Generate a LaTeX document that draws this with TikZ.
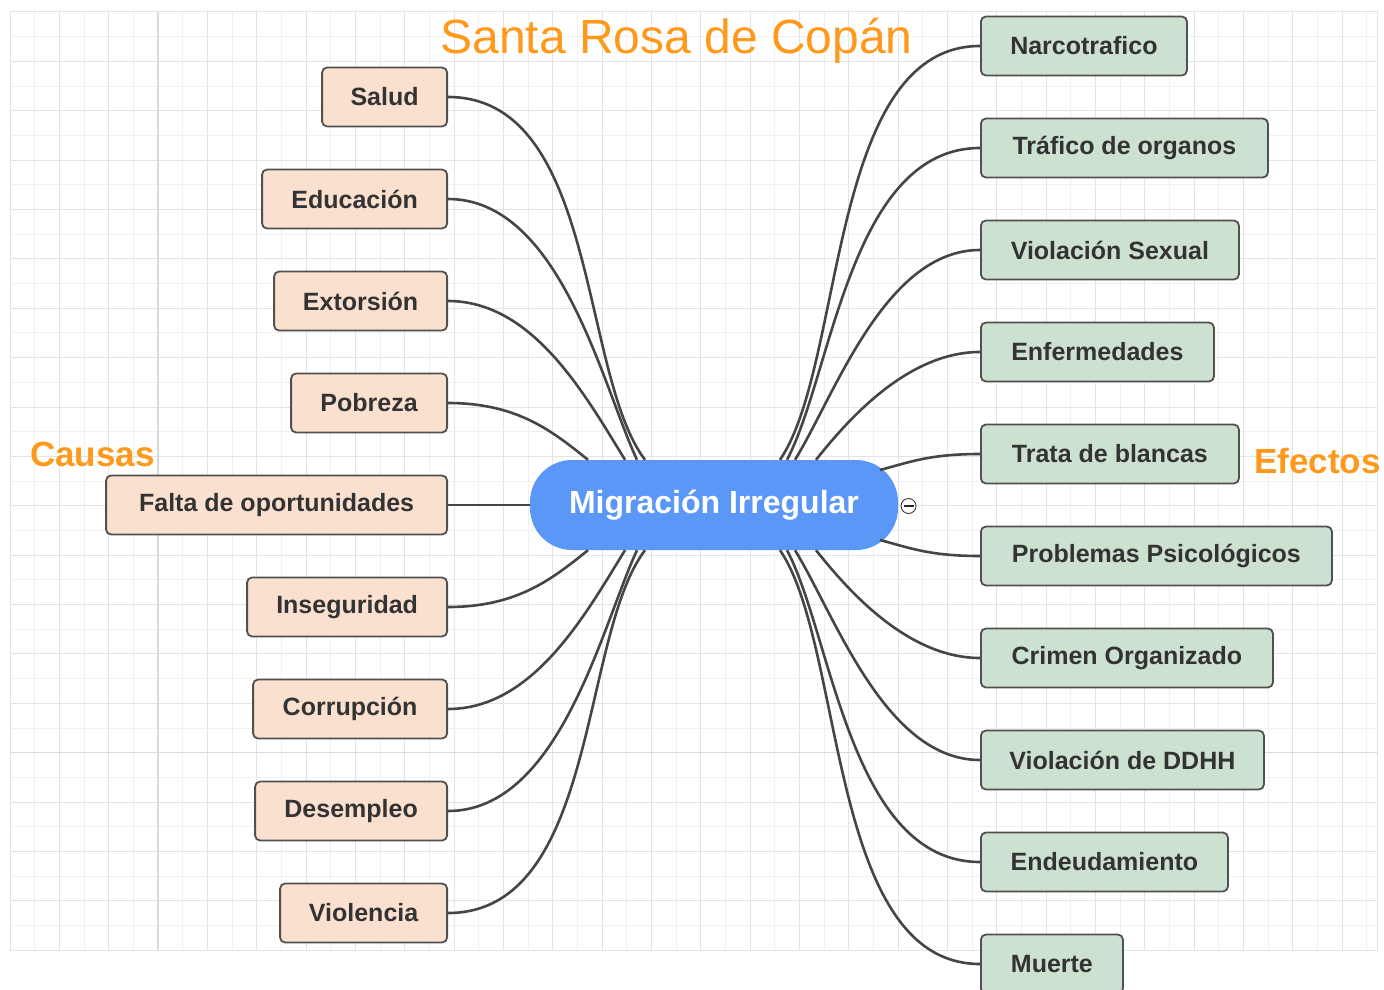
\documentclass[tikz,border=0pt]{standalone}
\usepackage{fontspec}
\setmainfont{Liberation Sans}
\begin{document}
\definecolor{causefill}{HTML}{FAE0CE}
\definecolor{effectfill}{HTML}{CDE1D0}
\definecolor{boxline}{HTML}{505050}
\definecolor{txt}{HTML}{333333}
\definecolor{migblue}{HTML}{5A97F7}
\definecolor{orangetxt}{HTML}{FF991C}
\definecolor{conncol}{HTML}{454545}
\definecolor{gridA}{HTML}{E3E3E3}
\definecolor{gridB}{HTML}{F0F0F0}
\definecolor{gridM}{HTML}{DADADA}
\newcommand\boxfnt{\fontsize{25}{30}\selectfont\bfseries}
\begin{tikzpicture}[x=1pt,y=-1pt,
  cause/.style={draw=boxline, fill=causefill, line width=1.8pt, rounded corners=5pt,
     minimum height=59pt, inner sep=0pt, font=\boxfnt, text=txt, anchor=east},
  effect/.style={draw=boxline, fill=effectfill, line width=1.8pt, rounded corners=5pt,
     minimum height=59pt, inner sep=0pt, font=\boxfnt, text=txt, anchor=west},
  conn/.style={draw=conncol, line width=2.6pt},
  label/.style={text=orangetxt, anchor=base, inner sep=0pt}]
\useasboundingbox (0,0) rectangle (1384,990);
% grid background
\foreach \k in {0,...,55}{
  \pgfmathsetmacro\xx{10+24.67*\k}
  \ifodd\k \draw[gridB, line width=1pt] (\xx,12) -- (\xx,950);
  \else \draw[gridA, line width=1pt] (\xx,12) -- (\xx,950); \fi
}
\foreach \k in {0,...,38}{
  \pgfmathsetmacro\yy{12+24.69*\k}
  \ifodd\k \draw[gridB, line width=1pt] (10,\yy) -- (1377,\yy);
  \else \draw[gridA, line width=1pt] (10,\yy) -- (1377,\yy); \fi
}
\draw[gridM, line width=1.5pt] (158,12) -- (158,950);
\draw[gridM, line width=1.5pt] (10,752.5) -- (1377,752.5);
\draw[gridA, line width=1pt] (10,12) rectangle (1377,950);

% title and labels
\node[label, font=\fontsize{48}{56}\selectfont] (title) at (676.5,54) {Santa Rosa de Copán};
\node[label, font=\fontsize{35}{40}\selectfont\bfseries] (causas) at (92.5,466) {Causas};
\node[label, font=\fontsize{35}{40}\selectfont\bfseries] (efectos) at (1317.5,473) {Efectos};

% central node
\node[fill=migblue, rounded corners=42pt, minimum width=368pt, minimum height=90pt,
      inner sep=0pt, text=white, font=\fontsize{32}{36}\selectfont\bfseries] (mig) at (714,505) {Migración Irregular};

% collapse toggle
\node[circle, draw=black!85, fill=white, line width=0.8pt, minimum size=15pt, inner sep=0pt] (tog) at (908.5,506) {};
\draw[black!85, line width=1.1pt] ([xshift=-5pt]tog.center) -- ([xshift=5pt]tog.center);

% causes
\node[cause, minimum width=125pt] (salud) at (448,97) {Salud};
\node[cause, minimum width=185pt] (educ) at (448,199) {Educación};
\node[cause, minimum width=173pt] (extor) at (448,301) {Extorsión};
\node[cause, minimum width=156pt] (pobre) at (448,403) {Pobreza};
\node[cause, minimum width=341pt] (falta) at (448,505) {Falta de oportunidades};
\node[cause, minimum width=200pt] (inseg) at (448,607) {Inseguridad};
\node[cause, minimum width=194pt] (corru) at (448,709) {Corrupción};
\node[cause, minimum width=192pt] (desem) at (448,811) {Desempleo};
\node[cause, minimum width=167pt] (viol) at (448,913) {Violencia};

% effects
\node[effect, minimum width=206pt] (narco) at (980,46) {Narcotrafico};
\node[effect, minimum width=287pt] (trafi) at (980,148) {Tráfico de organos};
\node[effect, minimum width=258pt] (vsex) at (980,250) {Violación Sexual};
\node[effect, minimum width=233pt] (enfer) at (980,352) {Enfermedades};
\node[effect, minimum width=258pt] (trata) at (980,454) {Trata de blancas};
\node[effect, minimum width=351pt] (psico) at (980,556) {Problemas Psicológicos};
\node[effect, minimum width=292pt] (crimen) at (980,658) {Crimen Organizado};
\node[effect, minimum width=283pt] (ddhh) at (980,760) {Violación de DDHH};
\node[effect, minimum width=247pt] (deuda) at (980,862) {Endeudamiento};
\node[effect, minimum width=142pt] (muerte) at (980,964) {Muerte};

% attachment points on the central node
\coordinate (L1) at ([xshift=-69pt]mig.north);
\coordinate (L2) at ([xshift=-77pt]mig.north);
\coordinate (L3) at ([xshift=-89pt]mig.north);
\coordinate (L4) at ([xshift=-126pt]mig.north);
\coordinate (B4) at ([xshift=-126pt]mig.south);
\coordinate (B3) at ([xshift=-89pt]mig.south);
\coordinate (B2) at ([xshift=-77pt]mig.south);
\coordinate (B1) at ([xshift=-69pt]mig.south);
\coordinate (R1) at ([xshift=66pt]mig.north);
\coordinate (R2) at ([xshift=73pt]mig.north);
\coordinate (R3) at ([xshift=81pt]mig.north);
\coordinate (R4) at ([xshift=102pt]mig.north);
\coordinate (R5) at ([shift={(166,-35)}]mig.center);
\coordinate (S5) at ([shift={(166,35)}]mig.center);
\coordinate (S4) at ([xshift=102pt]mig.south);
\coordinate (S3) at ([xshift=81pt]mig.south);
\coordinate (S2) at ([xshift=73pt]mig.south);
\coordinate (S1) at ([xshift=66pt]mig.south);

% cause connectors
\draw[conn] (salud.east) .. controls +(150,0) and +(-65,-85) .. (L1);
\draw[conn] (educ.east) .. controls +(112,0) and +(-35,-75) .. (L2);
\draw[conn] (extor.east) .. controls +(85,0) and +(-40,-65) .. (L3);
\draw[conn] (pobre.east) .. controls +(70,0) and +(-35,-28) .. (L4);
\draw[conn] (falta.east) -- (mig.west);
\draw[conn] (inseg.east) .. controls +(70,0) and +(-35,28) .. (B4);
\draw[conn] (corru.east) .. controls +(85,0) and +(-40,65) .. (B3);
\draw[conn] (desem.east) .. controls +(112,0) and +(-35,75) .. (B2);
\draw[conn] (viol.east) .. controls +(150,0) and +(-65,85) .. (B1);

% effect connectors
\draw[conn] (narco.west) .. controls +(-152,0) and +(65,-95) .. (R1);
\draw[conn] (trafi.west) .. controls +(-130,0) and +(45,-85) .. (R2);
\draw[conn] (vsex.west) .. controls +(-95,0) and +(40,-65) .. (R3);
\draw[conn] (enfer.west) .. controls +(-75,0) and +(28,-35) .. (R4);
\draw[conn] (trata.west) .. controls +(-50,0) and +(30,-8) .. (R5);
\draw[conn] (psico.west) .. controls +(-50,0) and +(30,8) .. (S5);
\draw[conn] (crimen.west) .. controls +(-75,0) and +(28,35) .. (S4);
\draw[conn] (ddhh.west) .. controls +(-95,0) and +(40,65) .. (S3);
\draw[conn] (deuda.west) .. controls +(-130,0) and +(45,85) .. (S2);
\draw[conn] (muerte.west) .. controls +(-152,0) and +(65,95) .. (S1);
\end{tikzpicture}
\end{document}
